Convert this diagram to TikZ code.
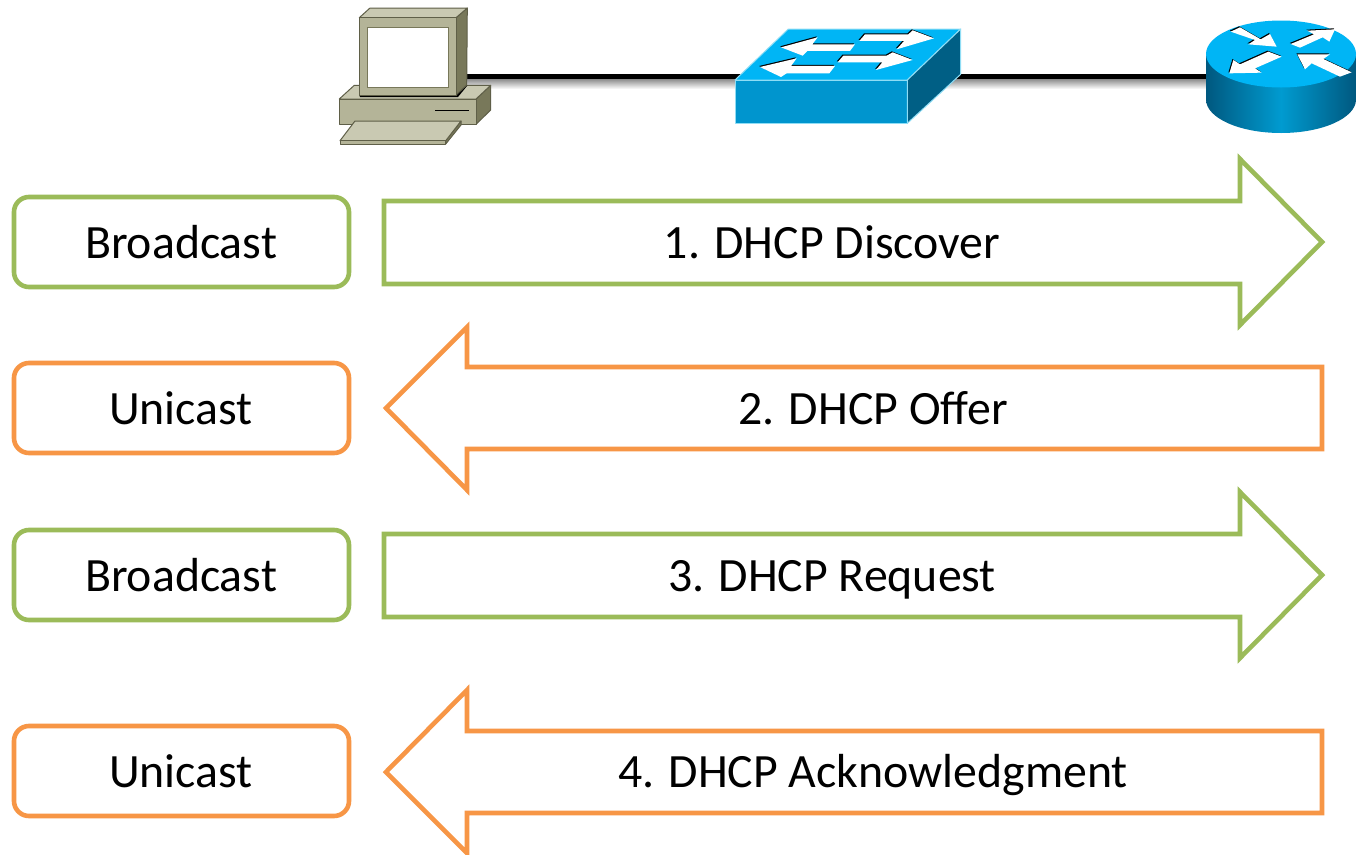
\documentclass[tikz,border=0pt]{standalone}
\usepackage{fontspec}
\setmainfont{Carlito}
\definecolor{grn}{HTML}{9BBB59}
\definecolor{org}{HTML}{F79646}
\definecolor{pcfront}{HTML}{B4B498}
\definecolor{pctop}{HTML}{C9C9B2}
\definecolor{pcside}{HTML}{78785A}
\definecolor{pcedge}{HTML}{5F5F48}
\definecolor{swtop}{HTML}{00B5F5}
\definecolor{swfront}{HTML}{0095CE}
\definecolor{swside}{HTML}{005F85}
\definecolor{swedge}{HTML}{8FDDF5}
\definecolor{rtdark}{HTML}{00587F}
\definecolor{rtmid}{HTML}{009BD0}
\tikzset{
  x=1pt,y=-1pt,
  lbl/.style={font=\fontsize{47.8}{54}\selectfont,anchor=base,inner sep=0pt,text=black},
  tagbox/.style={draw=#1,line width=4.6pt,rounded corners=15pt,fill=white},
  bigarrow/.style={draw=#1,line width=4.6pt,miter limit=10,line join=miter,fill=white},
  pcpart/.style={draw=pcedge,line width=1pt,line join=round},
  swpart/.style={draw=swedge,line width=1pt,line join=round},
  iconarrow/.style={fill=white,draw=none},
  iconshade/.style={fill=black,draw=none},
}
\newcommand{\iconarrowshape}[1]{%
  \fill[iconshade,xshift=-.9pt,yshift=1pt] #1 -- cycle;
  \fill[iconarrow] #1 -- cycle;}
\begin{document}
\begin{tikzpicture}
\useasboundingbox (0,0) rectangle (1362,854);
\fill[white] (0,0) rectangle (1362,854);

% link
\coordinate (pcport) at (466,76.7);
\coordinate (swport) at (848,76.7);
\coordinate (rtport) at (1215,76.7);
\shade[top color=black!45,bottom color=white] (466,79) rectangle (1215,89);
\draw[line width=5.4pt] (pcport) -- (swport);
\draw[line width=5.4pt] (swport) -- (rtport);

% computer
\fill[pcside,pcpart] (476,99) -- (490.7,85.3) -- (490.7,110) -- (476,124.3) -- cycle;
\fill[pctop,pcpart] (339.3,99) -- (354.3,85.3) -- (490.7,85.3) -- (476,99) -- cycle;
\fill[pcfront,pcpart] (339.3,99) rectangle (476,124.3);
\draw[line width=1.8pt] (435,110.5) -- (469,110.5);
\fill[black] (359.3,95) -- (456,95) -- (467,85) -- (467,86) -- (458,97) -- (360,97) -- cycle;
\fill[pcside,pcpart] (445.7,140.7) -- (461,121) -- (461,125) -- (445.7,144) -- cycle;
\fill[pctop,pcpart] (340,140.7) -- (355,121) -- (461,121) -- (445.7,140.7) -- cycle;
\fill[pcfront,pcpart] (340,140.7) rectangle (445.7,144);
\fill[pcside,pcpart] (456,17.7) -- (467.3,8) -- (466.7,85) -- (456,95) -- cycle;
\fill[pctop,pcpart] (359.3,17.7) -- (370,8) -- (467.3,8) -- (456,17.7) -- cycle;
\fill[pcfront,pcpart] (359.3,17.7) rectangle (456,95);
\fill[white,draw=pcside,line width=1.4pt] (367.7,27.7) rectangle (448.7,87.3);

% switch
\fill[swtop,swpart] (735,80) -- (788.3,29) -- (960.7,29) -- (907.3,80) -- cycle;
\fill[swfront,swpart] (735,80) rectangle (907.3,123.3);
\fill[swside,swpart] (907.3,80) -- (960.7,29) -- (960.7,74.3) -- (907.3,123.3) -- cycle;
\begin{scope}[shift={(720,15)},x=.3333pt,y=-.3333pt]
\iconarrowshape{(183,97) -- (293,67) -- (277,88) -- (405,88) -- (390,108) -- (262,108) -- (248,122)}
\iconarrowshape{(120,156) -- (230,130) -- (213,153) -- (345,153) -- (328,175) -- (200,175) -- (183,186)}
\iconarrowshape{(642,70) -- (578,46) -- (565,58) -- (435,58) -- (418,78) -- (552,78) -- (530,103)}
\iconarrowshape{(578,135) -- (518,112) -- (500,122) -- (370,122) -- (353,142) -- (487,142) -- (468,165)}
\end{scope}

% router
\begin{scope}
\clip (1206,54) -- (1206,99.5) arc[start angle=180,end angle=0,x radius=75,y radius=33.5] -- (1356,54) -- cycle;
\shade[left color=rtdark,right color=rtdark,middle color=rtmid] (1206,20) rectangle (1356,134);
\end{scope}
\fill[swtop] (1281,54) ellipse[x radius=75,y radius=33.5];
\begin{scope}[shift={(1190,10)},x=.3333pt,y=-.3333pt]
\iconarrowshape{(122,65) -- (150,52) -- (212,88) -- (240,72) -- (260,110) -- (175,103) -- (195,90)}
\iconarrowshape{(435,58) -- (352,62) -- (372,73) -- (302,102) -- (330,113) -- (398,82) -- (418,95)}
\iconarrowshape{(118,190) -- (130,150) -- (150,163) -- (235,125) -- (275,140) -- (195,175) -- (215,188)}
\iconarrowshape{(322,133) -- (420,133) -- (400,147) -- (485,187) -- (450,200) -- (365,160) -- (345,178)}
\end{scope}

% boxes
\draw[tagbox=grn] (14,197) rectangle (349,287);
\draw[tagbox=org] (14,363) rectangle (349,453);
\draw[tagbox=grn] (14,530) rectangle (349,620);
\draw[tagbox=org] (14,726) rectangle (349,816);

% arrows
\draw[bigarrow=grn] (384,201) -- (1240,201) -- (1240,159) -- (1322,242) -- (1240,325) -- (1240,284) -- (384,284) -- cycle;
\draw[bigarrow=org] (1322,367) -- (467,367) -- (467,327) -- (386,408) -- (467,490) -- (467,449) -- (1322,449) -- cycle;
\draw[bigarrow=grn] (384,534) -- (1240,534) -- (1240,492) -- (1322,575) -- (1240,658) -- (1240,617) -- (384,617) -- cycle;
\draw[bigarrow=org] (1322,731) -- (467,731) -- (467,690) -- (386,772) -- (467,853) -- (467,813) -- (1322,813) -- cycle;

% labels
\node[lbl] (tag1) at (181,258) {Broadcast};
\node[lbl] (tag2) at (181,424) {Unicast};
\node[lbl] (tag3) at (181,591) {Broadcast};
\node[lbl] (tag4) at (181,787) {Unicast};
\node[lbl] (msg1) at (832,258) {1. DHCP Discover};
\node[lbl] (msg2) at (873,424) {2. DHCP Offer};
\node[lbl] (msg3) at (832,591) {3. DHCP Request};
\node[lbl] (msg4) at (873,787) {4. DHCP Acknowledgment};
\end{tikzpicture}
\end{document}
